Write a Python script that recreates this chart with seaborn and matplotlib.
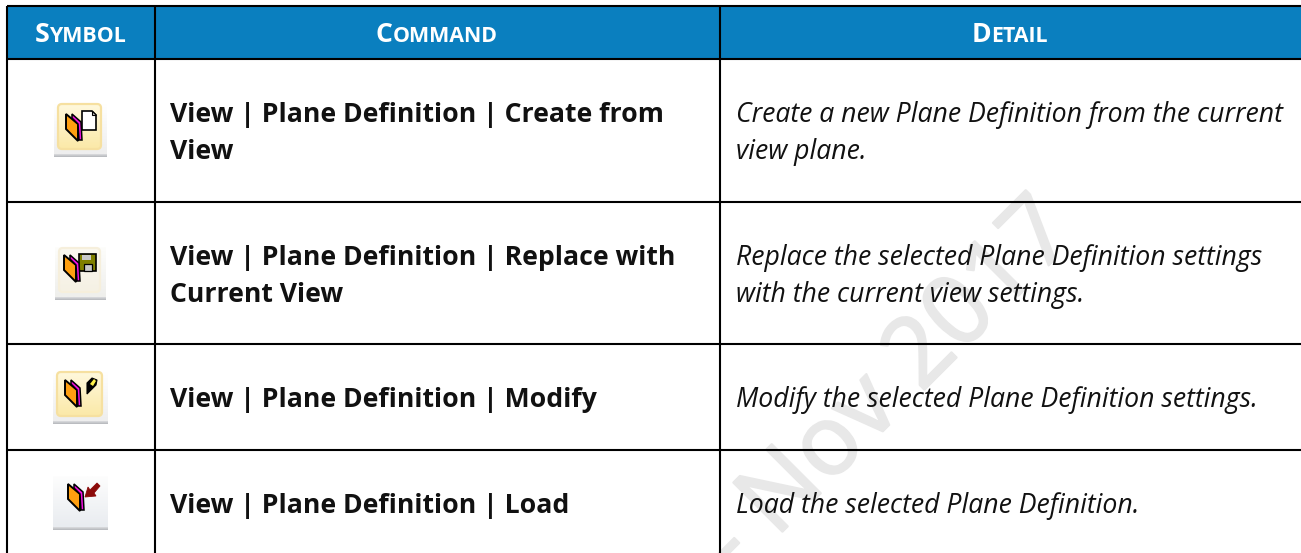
import matplotlib
matplotlib.use("Agg")
import numpy as np
import matplotlib.pyplot as plt
import matplotlib.patheffects as pe
import seaborn as sns
from matplotlib.colors import LinearSegmentedColormap
from matplotlib.patches import FancyBboxPatch, Polygon, Rectangle

# Table content

HEADERS = ["Symbol", "Command", "Detail"]
COMMANDS = [
    ["View | Plane Definition | Create from", "View"],
    ["View | Plane Definition | Replace with", "Current View"],
    ["View | Plane Definition | Modify"],
    ["View | Plane Definition | Load"],
]
DETAILS = [
    ["Create a new Plane Definition from the current", "view plane."],
    ["Replace the selected Plane Definition settings", "with the current view settings."],
    ["Modify the selected Plane Definition settings."],
    ["Load the selected Plane Definition."],
]
WATERMARK = "- Nov 2017"

# Layout in image pixels

WIDTH, HEIGHT = 1301, 553
COL_EDGES = [7, 155, 720, 1301]
ROW_EDGES = [6, 59, 202, 344, 450, 553]
FIRST_BASELINE = [122, 265, 407, 513]
LINE_STEP = 37
HEADER_BLUE = "#0a7fbf"
LINE = "#000000"
INK = "#111111"
MARK_GREY = "#e8e8e8"


def gradient(ax, box, top, bottom, clip=None):
    cmap = LinearSegmentedColormap.from_list("g", [top, bottom])
    img = ax.imshow(np.linspace(0, 1, 32)[:, None], cmap=cmap, aspect="auto", zorder=4,
                    extent=[box[0], box[1], box[3], box[2]], interpolation="bilinear")
    if clip is not None:
        img.set_clip_path(clip)


def button(ax, left, top, width, height, bg_top, bg_bottom, glow=None):
    # grey toolbar strip with the rounded highlight box on it
    gradient(ax, (left, left + width, top, top + height - 3), bg_top, bg_bottom)
    gradient(ax, (left, left + width, top + height - 3, top + height), "#dcdde0", "#b4b6ba")
    if glow:
        box = FancyBboxPatch((left + 4, top + 1), width - 10, height - 9,
                             boxstyle="round,pad=0,rounding_size=4",
                             fc="none", ec=glow[2], lw=1.6, zorder=4.2)
        ax.add_patch(box)
        gradient(ax, (left + 4, left + width - 6, top + 1, top + height - 8), glow[0], glow[1], clip=box)


def planes(ax, x, y):
    # the two sheets of the plane definition symbol
    ax.add_patch(Polygon([(x, y), (x + 12, y + 10), (x + 12, y + 27), (x, y + 15)],
                         fc="#ff9f10", ec="black", lw=1.4, zorder=5))
    ax.add_patch(Polygon([(x + 6, y), (x + 15, y + 8), (x + 16, y + 26), (x + 13, y + 26),
                          (x + 12, y + 10), (x + 6, y + 4)],
                         fc="#f010e0", ec="black", lw=1.1, zorder=5.1))


def smallcaps(ax, cx, baseline, label, big=19.2, small=15.4):
    # first letter large, the rest in capitals one size down
    first = ax.text(0, baseline, label[0].upper(), color="white", fontsize=big,
                    fontweight="bold", va="baseline", zorder=6)
    rest = ax.text(0, baseline, label[1:].upper(), color="white", fontsize=small,
                   fontweight="bold", va="baseline", zorder=6)
    renderer = ax.figure.canvas.get_renderer()
    w1 = first.get_window_extent(renderer).width
    w2 = rest.get_window_extent(renderer).width
    first.set_x(cx - (w1 + w2) / 2 - 1)
    rest.set_x(cx - (w1 + w2) / 2 - 1 + w1)


sns.set_theme(style="white")
plt.rcParams["font.family"] = ["Open Sans", "DejaVu Sans"]

# one heatmap cell per pixel, so the axes run in image pixels
cell_kind = np.zeros((HEIGHT, WIDTH), dtype=np.uint8)
cell_kind[ROW_EDGES[0]:ROW_EDGES[1], COL_EDGES[0]:] = 1

fig = plt.figure(figsize=(WIDTH / 100, HEIGHT / 100), dpi=100)
ax = fig.add_axes([0, 0, 1, 1])
sns.heatmap(cell_kind, ax=ax, cmap=["#ffffff", HEADER_BLUE], cbar=False,
            xticklabels=False, yticklabels=False, vmin=0, vmax=1)

ax.text(889, 389, WATERMARK, color=MARK_GREY, fontsize=70, rotation=45,
        ha="center", va="center", rotation_mode="anchor", zorder=1.5,
        path_effects=[pe.withStroke(linewidth=1.6, foreground=MARK_GREY)])

ax.hlines(ROW_EDGES[:-1], COL_EDGES[0], COL_EDGES[-1], color=LINE, lw=1.5, zorder=3)
ax.vlines(COL_EDGES[:-1], ROW_EDGES[0], HEIGHT, color=LINE, lw=1.5, zorder=3)

for left, right, label in zip(COL_EDGES[:-1], COL_EDGES[1:], HEADERS):
    smallcaps(ax, (left + right) / 2, 42.5, label)

for base, cmd, det in zip(FIRST_BASELINE, COMMANDS, DETAILS):
    for i, line in enumerate(cmd):
        ax.text(170, base + i * LINE_STEP, line, fontsize=19.2, fontweight="bold", color=INK,
                va="baseline", zorder=6)
    for i, line in enumerate(det):
        ax.text(736, base + i * LINE_STEP, line, fontsize=19.2, fontstyle="italic", color=INK,
                va="baseline", zorder=6)

# toolbar icons

yellow = ("#fff8dc", "#fbe9a8", "#f6e0a0")
pale = ("#fbf8f0", "#f5f1e4", "#f6efdc")

button(ax, 54, 103, 53, 54, "#ffffff", "#eeeeee", yellow)
planes(ax, 66, 114)
ax.add_patch(Polygon([(82, 111), (92, 111), (96, 115), (96, 130), (82, 130)],
                     fc="white", ec="black", lw=1.2, zorder=5))
ax.add_patch(Polygon([(92, 111), (92, 115), (96, 115)], fc="#cccccc", ec="black", lw=0.8, zorder=5.2))

button(ax, 55, 247, 51, 53, "#fdfdfb", "#efefec", pale)
planes(ax, 64, 255)
ax.add_patch(Rectangle((79, 254), 17, 17, fc="#808000", ec="black", lw=1.2, zorder=5))
ax.add_patch(Rectangle((82, 255), 9, 5, fc="#c8c8c8", ec="none", zorder=5.2))
ax.add_patch(Rectangle((84, 264), 8, 7, fc="#c8c8c8", ec="black", lw=0.9, zorder=5.2))

button(ax, 53, 371, 55, 53, "#ffffff", "#eeeeee", yellow)
planes(ax, 65, 380)
ax.add_patch(Polygon([(87, 394), (87, 383), (92, 378), (97, 380), (96, 385)],
                     fc="black", ec="black", lw=0.8, zorder=5))
ax.add_patch(Polygon([(90, 384), (94, 379), (96, 381), (93, 386)], fc="#fff24a", ec="none", zorder=5.2))

button(ax, 53, 476, 55, 54, "#fdfdfd", "#e9ecf0")
planes(ax, 68, 484)
ax.add_patch(Polygon([(85, 497), (88, 487), (90, 490), (97, 483), (100, 486), (94, 493), (96, 496)],
                     fc="#8b0a0a", ec="#8b0a0a", lw=0.6, zorder=5.3))

ax.set_xlim(0, WIDTH)
ax.set_ylim(HEIGHT, 0)

fig.savefig("out.png", dpi=100)
